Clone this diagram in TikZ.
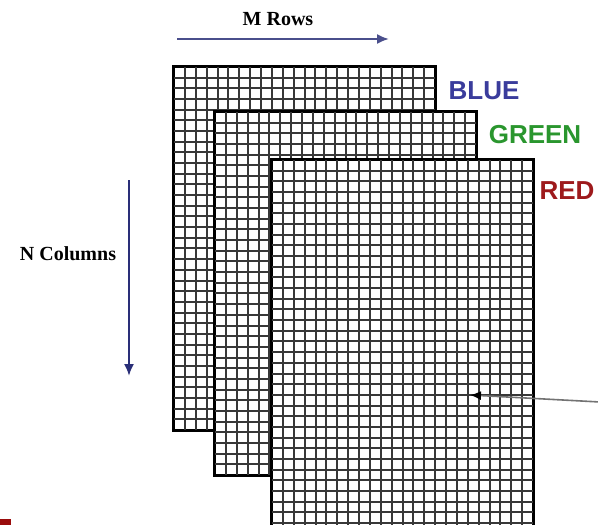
\documentclass[tikz,border=0pt]{standalone}
\usepackage{fontspec}
\setmainfont{Liberation Serif}
\newfontfamily\labelfont{Liberation Sans}
\usetikzlibrary{arrows.meta}
\definecolor{bluelbl}{HTML}{3A3C9C}
\definecolor{greenlbl}{HTML}{2A962E}
\definecolor{redlbl}{HTML}{9E1A1C}
\definecolor{arrowblue}{HTML}{4A4F8C}
\definecolor{arrownavy}{HTML}{2A2F78}
\definecolor{marker}{HTML}{9A0C0C}
\tikzset{
  layerbox/.style={draw=black, line width=2.4pt, fill=white, minimum width=261pt, inner sep=0pt},
  cell/.style={draw=black!78, line width=1.8pt},
  border/.style={draw=black, line width=2.4pt},
  chan/.style={font=\labelfont\bfseries\fontsize{26}{26}\selectfont, inner sep=0pt},
  axislbl/.style={font=\bfseries\fontsize{20}{20}\selectfont, inner sep=0pt},
}
% name, left x, top y, height, rows
\newcommand\rgblayer[5]{%
  \node[layerbox, minimum height=#4pt] (#1) at ({#2+130.5},{#3+#4/2}) {};
  \foreach \i in {1,...,23} {%
    \pgfmathsetmacro{\xx}{round(#2+\i*10.875)}
    \draw[cell] (\xx,#3) -- (\xx,{#3+#4});}
  \foreach \j in {1,...,#5} {%
    \pgfmathsetmacro{\yy}{round(#3+\j*10.676)}
    \draw[cell] (#2,\yy) -- ({#2+261},\yy);}
  \draw[border] (#1.north west) rectangle (#1.south east);
}
\begin{document}
\begin{tikzpicture}[x=1pt,y=-1pt]
\useasboundingbox (0,0) rectangle (598,525);
\fill[white] (0,0) rectangle (598,525);

\rgblayer{bluegrid}{174}{67}{363}{33}
\rgblayer{greengrid}{215}{112}{363}{33}
\rgblayer{redgrid}{272}{160}{370}{34}

\node[chan, text=bluelbl] (bluelabel) at (484,91) {BLUE};
\node[chan, text=greenlbl] (greenlabel) at (535,135) {GREEN};
\node[chan, text=redlbl] (redlabel) at (567,191) {RED};

\node[axislbl] (mrows) at (278,19) {M Rows};
\coordinate (mstart) at (177,39);
\coordinate (mend) at (389,39);
\draw[line width=2pt, draw=arrowblue, -{Latex[length=12pt,width=10pt,fill=arrowblue]}] (mstart) -- (mend);

\node[axislbl] (ncols) at (68,254) {N Columns};
\coordinate (nstart) at (129,180);
\coordinate (nend) at (129,376);
\draw[line width=2pt, draw=arrownavy, -{Latex[length=12pt,width=10pt,fill=arrownavy]}] (nstart) -- (nend);

\coordinate (pstart) at (600,402);
\coordinate (ptarget) at (470,395);
\draw[line width=1.6pt, draw=black!55, -{Latex[length=11pt,width=9pt,fill=black,color=black]}] (pstart) -- (ptarget);

\fill[marker] (0,519) rectangle (11,525);
\end{tikzpicture}
\end{document}
